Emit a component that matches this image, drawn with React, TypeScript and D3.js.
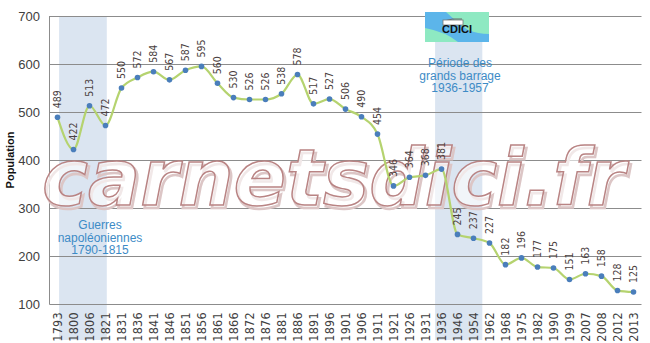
import React from "react";
import * as d3 from "d3";

const years = ["1793","1800","1806","1821","1831","1836","1841","1846","1851","1856","1861","1866","1872","1876","1881","1886","1891","1896","1901","1906","1911","1921","1926","1931","1936","1946","1954","1962","1968","1975","1982","1990","1999","2007","2008","2012","2013"];
const population = [489,422,513,472,550,572,584,567,587,595,560,530,526,526,538,578,517,527,506,490,454,346,364,368,381,245,237,227,182,196,177,175,151,163,158,128,125];
const yTicks = [100,200,300,400,500,600,700];
const napoleonText = ["Guerres","napoléoniennes","1790-1815"];
const barrageText = ["Période des","grands barrage","1936-1957"];

const W = 650, H = 343;

export default function App() {
  const x = d3.scaleBand<string>().domain(years).range([49.5, 641.5]).padding(0);
  const y = d3.scaleLinear().domain([100, 700]).range([304, 16]);
  const bw = x.bandwidth();
  const cx = (i: number) => (x(years[i]) as number) + bw / 2;
  const line = d3.line<number>().x((_, i) => cx(i)).y(d => y(d)).curve(d3.curveMonotoneX);
  const bandAt = (f: number) => 49.5 + f * bw;
  const txtBlue = "#3d8bc6";
  const band = "#dbe5f1";
  return (
    <svg width={W} height={H} style={{ position: "absolute", left: 0, top: 0, background: "#fff" }} fontFamily="'Liberation Sans', Arial, sans-serif">
      <rect x={0} y={0} width={W} height={H} fill="#fff" />
      {/* shaded periods */}
      <rect x={bandAt(0.6)} y={16} width={bandAt(3.58) - bandAt(0.6)} height={340 - 16} fill={band} />
      <rect x={bandAt(24.1)} y={40} width={bandAt(27.05) - bandAt(24.1)} height={340 - 40} fill={band} />
      {/* grid */}
      {yTicks.map(t => (
        <line key={t} x1={49.5} x2={641.5} y1={Math.round(y(t)) + 0.5} y2={Math.round(y(t)) + 0.5} stroke="#8c8c8c" strokeWidth={1} />
      ))}
      <line x1={49.5} x2={49.5} y1={16} y2={304.5} stroke="#8c8c8c" />
      {/* y ticks */}
      {yTicks.map(t => (
        <text key={t} x={40} y={y(t) + 4.5} textAnchor="end" fontSize={13} fill="#404040">{t}</text>
      ))}
      <text transform={`translate(14,160) rotate(-90)`} textAnchor="middle" fontSize={11} fontWeight="bold" fill="#111">Population</text>
      {/* x labels */}
      {years.map((yr, i) => (
        <text key={yr} transform={`translate(${cx(i) + 4.5},${312}) rotate(-90)`} textAnchor="end" fontSize={12.5} fill="#404040" fontFamily="'DejaVu Sans Condensed', 'Liberation Sans', sans-serif" letterSpacing={0.3}>{yr}</text>
      ))}
      {/* annotations */}
      {napoleonText.map((t, i) => (
        <text key={t} x={100} y={229 + i * 12.6} textAnchor="middle" fontSize={12} fill={txtBlue}>{t}</text>
      ))}
      {barrageText.map((t, i) => (
        <text key={t} x={460} y={67 + i * 12.6} textAnchor="middle" fontSize={12} fill={txtBlue}>{t}</text>
      ))}
      {/* watermark */}
      <g fontFamily="'DejaVu Sans', sans-serif" fontStyle="italic" fontWeight="bold" fontSize={78}>
        <text x={44} y={207.5} textLength={583} lengthAdjust="spacingAndGlyphs" fill="none" stroke="#dcc6c6" strokeWidth={2.6}>carnetsdici.fr</text>
        <text x={42} y={205} textLength={583} lengthAdjust="spacingAndGlyphs" fill="#fff" fillOpacity={0.6} stroke="#b98484" strokeWidth={1.5}>carnetsdici.fr</text>
      </g>
      {/* line & points */}
      <path d={line(population) || ""} fill="none" stroke="#b5d36f" strokeWidth={2.2} />
      {population.map((v, i) => (
        <circle key={i} cx={cx(i)} cy={y(v)} r={2.8} fill="#4a7ebb" />
      ))}
      {population.map((v, i) => (
        <text key={"l" + i} transform={`translate(${cx(i) + 3.5},${y(v) - 9}) rotate(-90)`} textAnchor="start" fontSize={10.5} fill="#4a4040" fontFamily="'Liberation Sans Narrow', 'DejaVu Sans Condensed', sans-serif">{v}</text>
      ))}
      {/* logo */}
      <g>
        <rect x={425} y={12} width={64} height={30} fill="#8ee9c2" />
        <path d="M425,12 L446,12 Q456,22 468,30 Q478,34 489,34 L489,42 L458,42 Q446,32 425,28 Z" fill="#5cb5ea" />
        <path d="M444,21 Q452,18 462,19" fill="none" stroke="#666" strokeWidth={1} />
        <rect x={443} y={20} width={20} height={5} fill="#fff" stroke="#777" strokeWidth={0.8} />
        <text x={457} y={33} textAnchor="middle" fontSize={11} fontWeight="bold" fill="#111">CDICI</text>
      </g>
    </svg>
  );
}
